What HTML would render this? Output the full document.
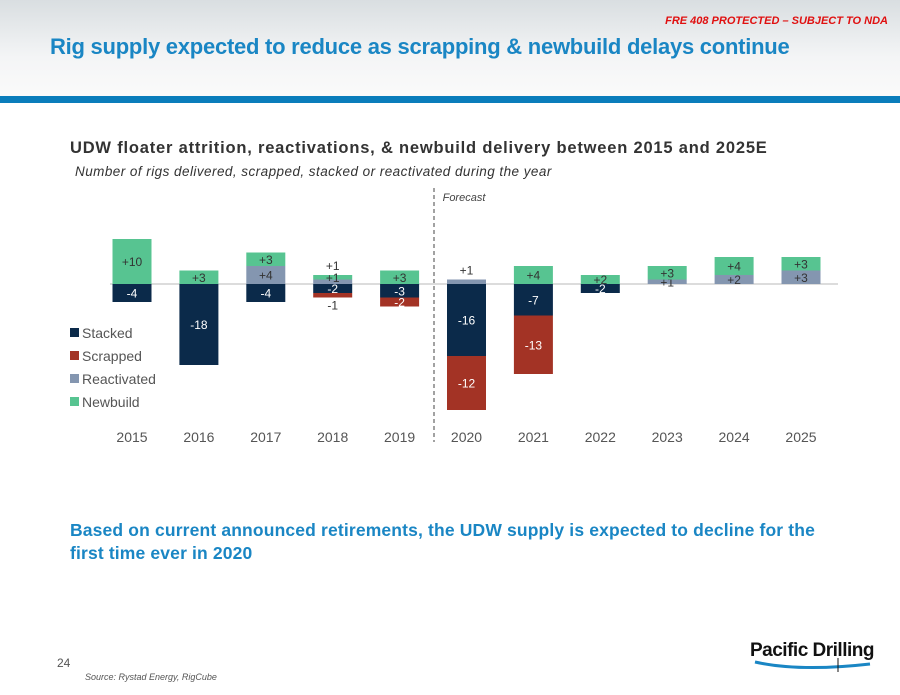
<!DOCTYPE html>
<html><head><meta charset="utf-8"><style>
body{margin:0;width:900px;height:695px;position:relative;background:#fff;font-family:"Liberation Sans",sans-serif;overflow:hidden}
.a{position:absolute;white-space:nowrap}
</style></head><body>
<div class="a" style="left:0;top:0;width:900px;height:96px;background:linear-gradient(#d9dee1,#f4f5f6 60%,#fafafa)"></div>
<div class="a" style="left:0;top:96px;width:900px;height:7px;background:#0a7dbb"></div>
<div class="a" style="right:12px;top:15px;font-size:11px;font-weight:bold;font-style:italic;color:#e01010">FRE 408 PROTECTED – SUBJECT TO NDA</div>
<div class="a" style="left:50px;top:34px;font-size:22px;font-weight:bold;color:#1a86c4;letter-spacing:-0.25px">Rig supply expected to reduce as scrapping &amp; newbuild delays continue</div>
<div class="a" style="left:70px;top:139px;font-size:16.5px;font-weight:bold;color:#333;letter-spacing:0.8px">UDW floater attrition, reactivations, &amp; newbuild delivery between 2015 and 2025E</div>
<div class="a" style="left:75px;top:164px;font-size:13.5px;font-style:italic;color:#333;letter-spacing:0.45px">Number of rigs delivered, scrapped, stacked or reactivated during the year</div>
<svg class="a" style="left:0;top:0" width="900" height="695" id="chart"></svg>
<div class="a" style="left:70px;top:519px;font-size:17.5px;font-weight:bold;color:#1a86c4;line-height:23px;letter-spacing:0.15px">Based on current announced retirements, the UDW supply is expected to decline for the<br>first time ever in 2020</div>
<div class="a" style="left:57px;top:656px;font-size:12px;color:#555">24</div>
<div class="a" style="left:85px;top:672px;font-size:9px;font-style:italic;color:#555">Source: Rystad Energy, RigCube</div>
<div class="a" style="left:750px;top:640px;width:125px;height:40px">
<div class="a" style="left:0;top:0;font-size:19px;font-weight:bold;color:#111;letter-spacing:-0.5px">Pacific Drilling</div>
<svg class="a" style="left:0;top:18px" width="125" height="20"><path d="M5 4 Q50 14 120 6" stroke="#1a86c4" stroke-width="3" fill="none"/><line x1="88" y1="0" x2="88" y2="14" stroke="#111"/></svg>
</div>
<script>
const years=["2015","2016","2017","2018","2019","2020","2021","2022","2023","2024","2025"];
const newbuild=[10,3,3,1,3,0,4,2,3,4,3];
const reactivated=[0,0,4,1,0,1,0,0,1,2,3];
const stacked=[-4,-18,-4,-2,-3,-16,-7,-2,0,0,0];
const scrapped=[0,0,0,-1,-2,-12,-13,0,0,0,0];
const legendNames=["Stacked","Scrapped","Reactivated","Newbuild"];
const colors={Stacked:"#0b2a4a",Scrapped:"#a33325",Reactivated:"#8496b0",Newbuild:"#57c491"};
const svg=document.getElementById('chart');const NS="http://www.w3.org/2000/svg";
const y0=284,k=4.5,x0=132,step=66.9,bw=39;
const X=i=>x0+i*step, Y=v=>y0-v*k;
function mk(t,a){const e=document.createElementNS(NS,t);for(const n in a)e.setAttribute(n,a[n]);svg.appendChild(e);return e;}
function txt(x,y,s,c,sz,nm){const e=mk('text',{x:x,y:y,'text-anchor':'middle','font-size':sz,fill:c,'font-family':'Liberation Sans, sans-serif'});e.textContent=s;

return e;}
const zl=mk('line',{x1:110,x2:838,y1:y0,y2:y0,stroke:'#d0d0d0','stroke-width':1.5});


function seg(i,a,b,col,val,nm,outer){if(!val)return;const top=Math.min(Y(a),Y(b)),h=Math.abs(Y(a)-Y(b));
const r=mk('rect',{x:X(i)-bw/2,y:top,width:bw,height:h,fill:col});


const lab=(val>0?'+':'')+val;const light=(nm==='stacked'||nm==='scrapped');
let ly=top+h/2+4.5,c=light?'#fff':'#333';
if(h<6&&((nm==='reactivated'&&newbuild[i]<=1)||nm==='scrapped')){c='#333';ly=val>0?Y(outer)-5:Y(outer)+12;}
txt(X(i),ly,lab,c,12,nm+'-label-'+years[i]);}
years.forEach((yr,i)=>{
const top=reactivated[i]+newbuild[i],bot=stacked[i]+scrapped[i];
seg(i,0,reactivated[i],colors.Reactivated,reactivated[i],'reactivated',top);
seg(i,reactivated[i],top,colors.Newbuild,newbuild[i],'newbuild',top);
seg(i,0,stacked[i],colors.Stacked,stacked[i],'stacked',bot);
seg(i,stacked[i],bot,colors.Scrapped,scrapped[i],'scrapped',bot);
txt(X(i),442,yr,'#555',14,'x-label-'+yr);});
const dl=mk('line',{x1:434,x2:434,y1:188,y2:442,stroke:'#444','stroke-dasharray':'4,3'});


const ft=txt(464,201,'Forecast','#444',11,'forecast-label');ft.setAttribute('font-style','italic');
legendNames.forEach((n,j)=>{const yy=333+j*23;
const r=mk('rect',{x:70,y:yy-5,width:9,height:9,fill:colors[n]});


const t=txt(82,yy+5,n,'#555',14,'legend-entry-'+n.toLowerCase());t.setAttribute('text-anchor','start');});
</script>
</body></html>
